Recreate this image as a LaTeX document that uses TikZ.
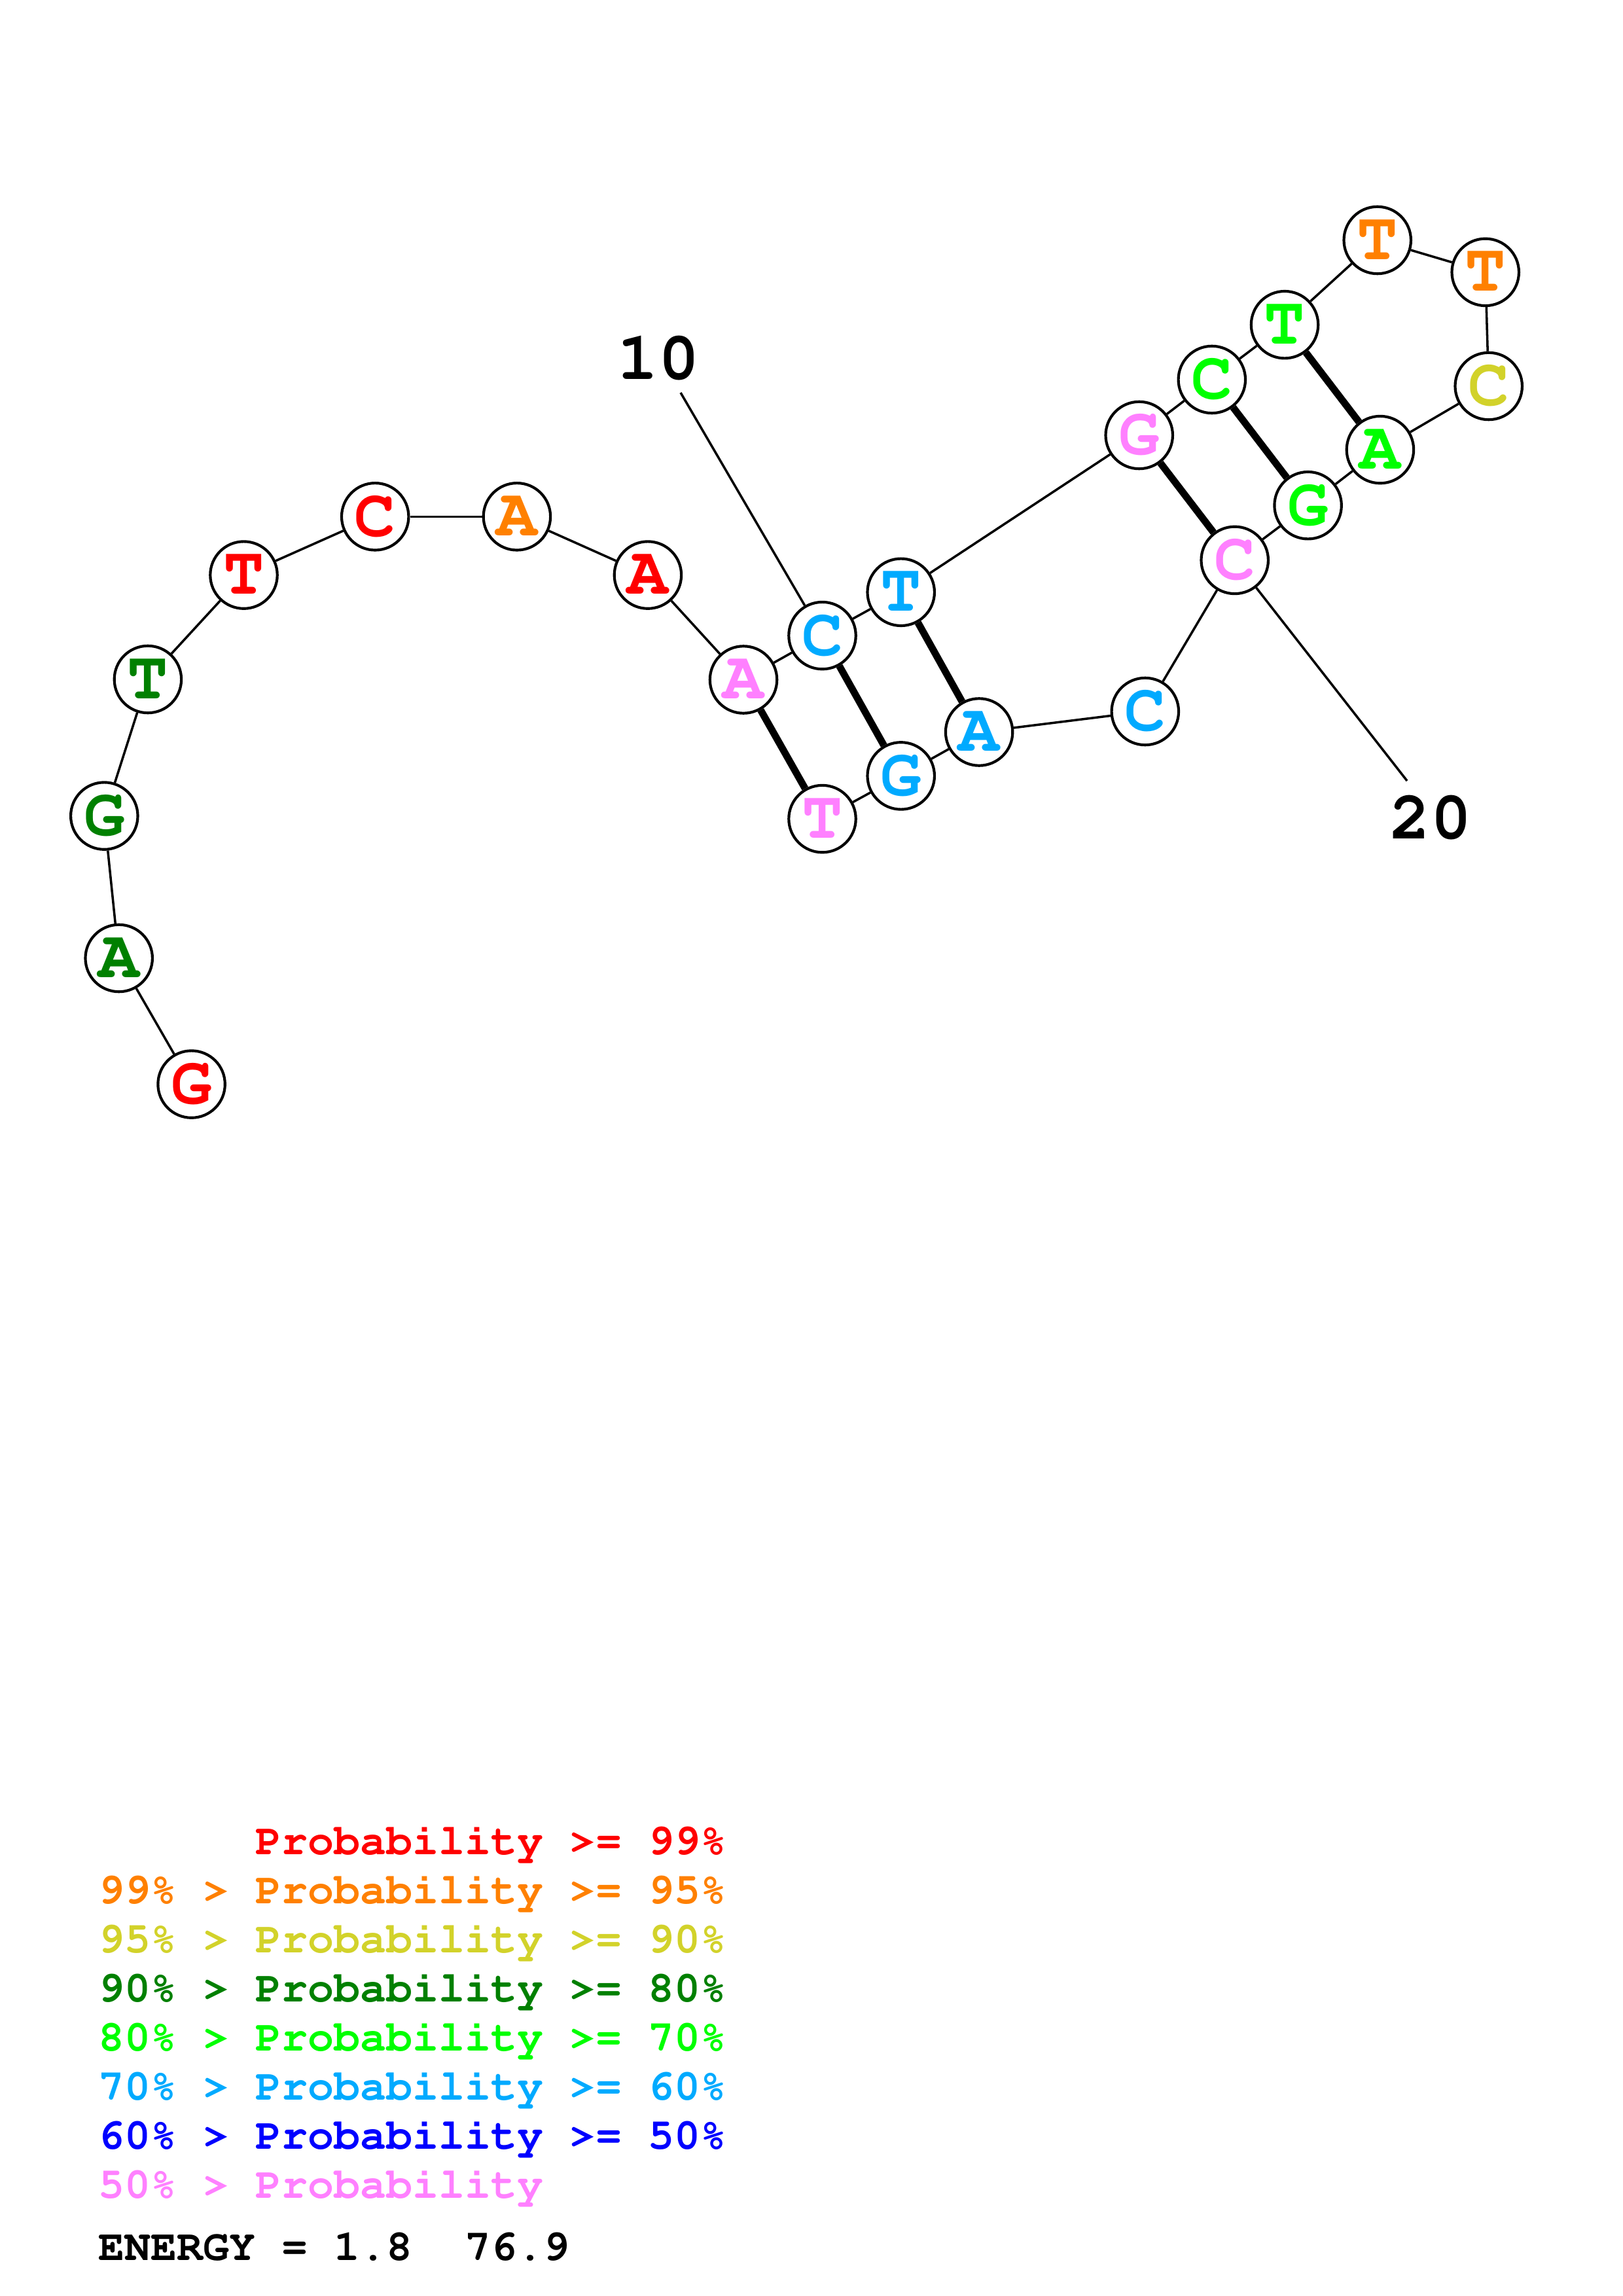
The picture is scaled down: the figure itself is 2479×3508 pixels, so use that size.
\documentclass[tikz,border=0pt]{standalone}
\usepackage[T1]{fontenc}
\usepackage{courier}
\usepackage{tikz}
\usetikzlibrary{positioning}
\definecolor{pr99}{RGB}{255,0,0}
\definecolor{pr95}{RGB}{255,128,0}
\definecolor{pr90}{RGB}{210,210,42}
\definecolor{pr80}{RGB}{0,128,0}
\definecolor{pr70}{RGB}{0,255,0}
\definecolor{pr60}{RGB}{0,170,255}
\definecolor{pr50}{RGB}{0,0,255}
\definecolor{prlow}{RGB}{255,128,255}
\tikzset{
  base/.style   = {circle, draw, line width=1pt, fill=white, minimum size=24.6pt,
                   inner sep=0pt, font=\fontsize{25}{25}\selectfont\ttfamily\bfseries},
  bb/.style     = {line width=0.85pt},
  bp/.style     = {line width=2.6pt},
  numlab/.style = {inner sep=0pt, font=\fontsize{25}{25}\selectfont\ttfamily\bfseries},
  legend/.style = {anchor=base west, inner sep=0pt,
                   font=\fontsize{16}{16}\selectfont\ttfamily\bfseries},
}
\begin{document}
\begin{tikzpicture}[x=0.24014pt,y=-0.24014pt]
 \useasboundingbox (0,0) rectangle (2479,3508);
 % bases
 \foreach \i/\px/\py/\b/\c in {
   1/292.6/1656.6/G/pr99, 2/181.7/1464/A/pr80, 3/159.3/1246.6/G/pr80,
   4/225.9/1038/T/pr80, 5/372.5/878.6/T/pr99, 6/573.2/789.3/C/pr99,
   7/789.9/789.3/A/pr95, 8/989.9/878.6/A/pr99, 9/1136/1038.5/A/prlow,
   10/1256.5/971.1/C/pr60, 11/1376.7/904.8/T/pr60, 12/1740.7/665/G/prlow,
   13/1851.8/580/C/pr70, 14/1963/496.2/T/pr70, 15/2104.7/367/T/pr95,
   16/2269.7/415.9/T/pr95, 17/2274.7/590/C/pr90, 18/2108.9/687.1/A/pr70,
   19/1998.6/772.2/G/pr70, 20/1886.7/855.9/C/prlow, 21/1749.8/1087/C/pr60,
   22/1496.1/1118.5/A/pr60, 23/1376.7/1185.4/G/pr60, 24/1256.5/1251.1/T/prlow}{
   \node[base, text=\c] (n\i) at (\px,\py) {\b};}
 % backbone
 \foreach \i [evaluate=\i as \j using int(\i+1)] in {1,...,23}{
   \draw[bb] (n\i) -- (n\j);}
 % pairs
 \foreach \a/\b in {9/24, 10/23, 11/22, 12/20, 13/19, 14/18}{
   \draw[bp] (n\a) -- (n\b);}
 % numbering
 \node[numlab] (lab10) at (1006,548) {10};
 \coordinate (t10) at (1040,600);
 \draw[bb] (t10) -- (n10);
 \node[numlab] (lab20) at (2186,1250) {20};
 \coordinate (t20) at (2150,1193);
 \draw[bb] (t20) -- (n20);
 % legend
 \node[legend, text=pr99] (leg0) at (390,2833) {Probability >= 99\%};
 \foreach \k/\txt/\c in {1/99\% > Probability >= 95\%/pr95,
   2/95\% > Probability >= 90\%/pr90, 3/90\% > Probability >= 80\%/pr80,
   4/80\% > Probability >= 70\%/pr70, 5/70\% > Probability >= 60\%/pr60,
   6/60\% > Probability >= 50\%/pr50, 7/50\% > Probability/prlow}{
   \node[legend, text=\c] (leg\k) at (150,2833+75*\k) {\txt};}
 \node[legend] (energy) at (150,3453) {ENERGY = 1.8~~76.9};
\end{tikzpicture}
\end{document}
